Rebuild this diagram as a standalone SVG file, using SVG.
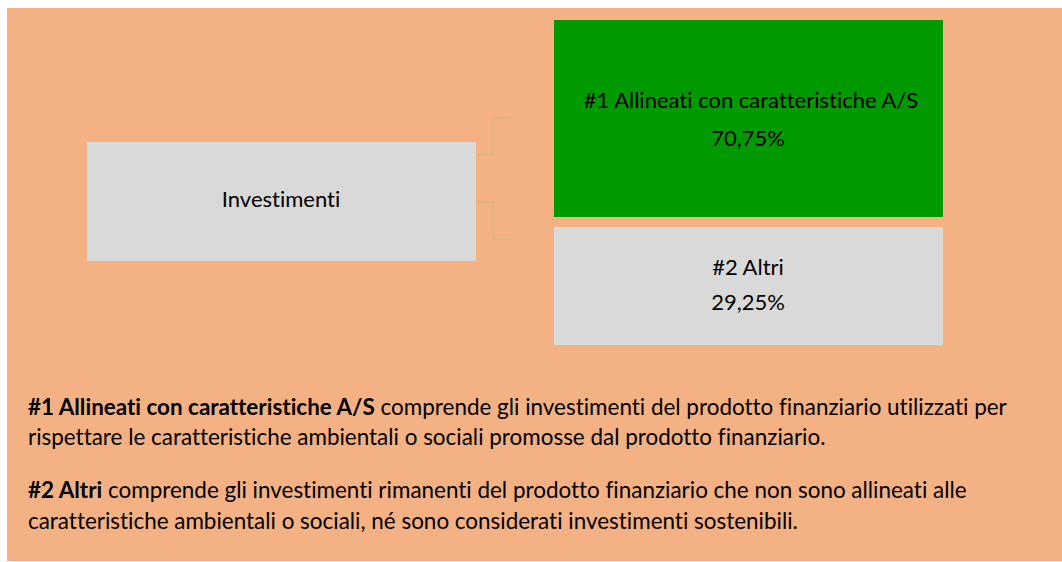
<svg xmlns="http://www.w3.org/2000/svg" width="1062" height="562" viewBox="0 0 1062 562">
<style>
.t{font-family:Lato,"Liberation Sans",sans-serif;font-size:22px;fill:#000;font-variant-ligatures:none}
.p{font-size:22.45px}
.c{text-anchor:middle}
.b{font-weight:bold}
.conn{fill:none;stroke:#d4b97a;stroke-width:1.5}
</style>
<rect x="0" y="0" width="1062" height="562" fill="#ffffff"/>
<rect x="7" y="8" width="1055" height="553" fill="#f4b183"/>
<g id="connectors">
<polyline class="conn" points="476,155 493,155 493,118 511,118"/>
<polyline class="conn" points="476,202 493,202 493,239 511,239"/>
</g>
<g id="investimenti">
<rect x="87" y="142" width="389" height="119" fill="#d9d9d9"/>
<text class="t c" x="281" y="207">Investimenti</text>
</g>
<g id="allineati">
<rect x="554" y="20" width="389" height="197" fill="#009900"/>
<text class="t c" x="751" y="108">#1 Allineati con caratteristiche A/S</text>
<text class="t c" x="748" y="146">70,75%</text>
</g>
<g id="altri">
<rect x="554" y="227" width="389" height="118" fill="#d9d9d9"/>
<text class="t c" x="748" y="275">#2 Altri</text>
<text class="t c" x="748" y="310">29,25%</text>
</g>
<g id="legend">
<text class="t p" x="28" y="415"><tspan class="b">#1 Allineati con caratteristiche A/S</tspan> comprende gli investimenti del prodotto finanziario utilizzati per</text>
<text class="t p" x="28" y="445">rispettare le caratteristiche ambientali o sociali promosse dal prodotto finanziario.</text>
<text class="t p" x="28" y="498"><tspan class="b">#2 Altri</tspan> comprende gli investimenti rimanenti del prodotto finanziario che non sono allineati alle</text>
<text class="t p" x="28" y="529">caratteristiche ambientali o sociali, né sono considerati investimenti sostenibili.</text>
</g>
</svg>
